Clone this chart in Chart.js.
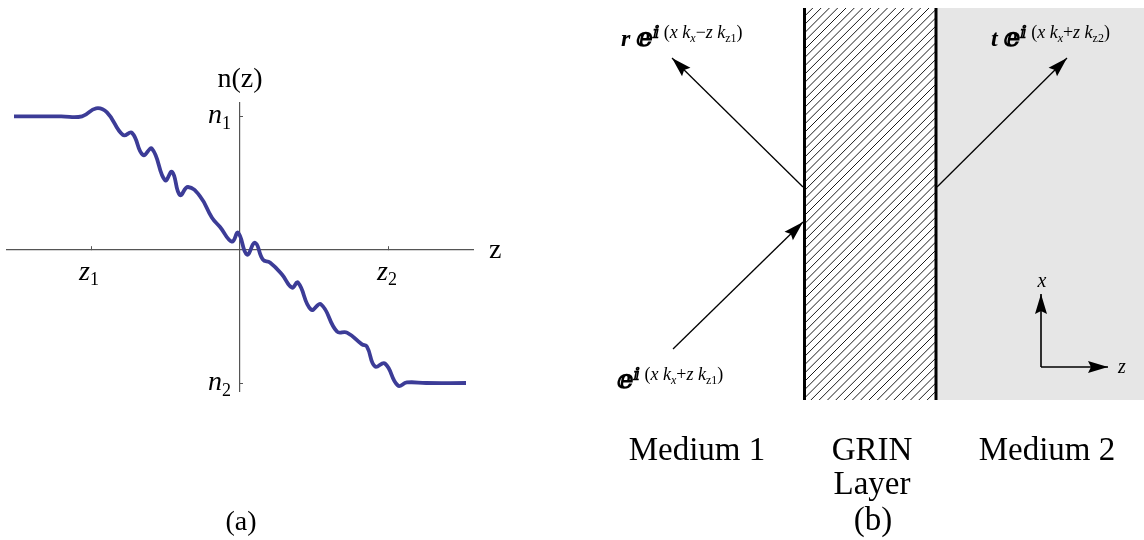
<!DOCTYPE html>
<html><head><meta charset="utf-8">
<script src="https://cdn.jsdelivr.net/npm/chart.js@4.4.1/dist/chart.umd.min.js"></script>
<style>
html,body{margin:0;padding:0;background:#fff;width:1144px;height:540px;overflow:hidden}
#wa{position:absolute;left:0;top:0;width:560px;height:540px}
#wb{position:absolute;left:560px;top:0;width:584px;height:540px}
</style></head><body>
<div id="wa"><canvas id="ca"></canvas></div>
<div id="wb"><canvas id="cb"></canvas></div>
<script>
// ---- panel (a): refractive index profile n(z) ----
const zValues = [-1.517, -1.2, -1.06, -0.966, -0.893, -0.785, -0.725, -0.651, -0.591, -0.503, -0.456, -0.403, -0.349, -0.268, -0.188, -0.134, -0.054, -0.013, 0.047, 0.101, 0.154, 0.201, 0.282, 0.349, 0.389, 0.477, 0.544, 0.651, 0.718, 0.819, 0.852, 0.906, 0.973, 1.06, 1.12, 1.25, 1.517];
const nValues = [1.0, 1.0, 1.0, 1.06, 1.03, 0.86, 0.876, 0.71, 0.757, 0.52, 0.584, 0.41, 0.47, 0.40, 0.24, 0.17, 0.06, 0.127, -0.037, 0.052, -0.075, -0.097, -0.187, -0.285, -0.247, -0.45, -0.41, -0.614, -0.622, -0.71, -0.727, -0.876, -0.854, -1.019, -0.996, -1.0, -1.0];
const zTickValues = [-1, 1];
const zTickNames = ['z', 'z'];
const zTickSubs = ['1', '2'];
const nTickValues = [1, -1];
const nTickNames = ['n', 'n'];
const nTickSubs = ['1', '2'];
const yAxisTitle = 'n(z)';
const xAxisTitle = 'z';
const panelA = '(a)';

// ---- panel (b): GRIN layer schematic (diagram units) ----
const layerEdges = [804.5, 936];
const layerTopBottom = [8, 400];
const medium2Right = 1144;
const arrowNames = ['incident', 'reflected', 'transmitted', 'xAxis', 'zAxis'];
const arrowStartX = [673, 803, 937, 1041, 1041];
const arrowStartY = [349, 187, 187, 367, 367];
const arrowEndX   = [803, 672, 1067, 1041, 1108];
const arrowEndY   = [222, 58, 58, 294, 367];
const regionNames = ['Medium 1', 'GRIN', 'Layer', 'Medium 2'];
const regionLabelX = [697, 872, 872, 1047];
const regionLabelY = [460, 460, 494, 460];
const panelB = '(b)';

const SERIF = '"Liberation Serif", "Times New Roman", serif';

function drawRich(ctx, x, y, segs, align) {
  let w = 0;
  for (const s of segs) { ctx.font = s[1]; w += ctx.measureText(s[0]).width; }
  let cx = align === 'center' ? x - w / 2 : (align === 'right' ? x - w : x);
  ctx.textAlign = 'left'; ctx.textBaseline = 'alphabetic';
  for (const s of segs) { ctx.font = s[1]; ctx.fillText(s[0], cx, y + (s[2] || 0)); cx += ctx.measureText(s[0]).width; }
}

const labelsA = {
  id: 'labelsA',
  afterDraw(chart) {
    const ctx = chart.ctx, xs = chart.scales.x, ys = chart.scales.y;
    ctx.save(); ctx.fillStyle = '#000';
    const x0 = xs.getPixelForValue(0), y0 = ys.getPixelForValue(0);
    ctx.font = '28px ' + SERIF; ctx.textAlign = 'center';
    ctx.fillText(yAxisTitle, x0, 87);
    ctx.textAlign = 'left';
    ctx.fillText(xAxisTitle, xs.right + 16, y0 + 8);
    zTickValues.forEach((v, i) => {
      const px = xs.getPixelForValue(v);
      drawRich(ctx, px - 2, y0 + 30, [[zTickNames[i], 'italic 28px ' + SERIF, 0], [zTickSubs[i], '18px ' + SERIF, 5]], 'center');
    });
    nTickValues.forEach((v, i) => {
      const py = ys.getPixelForValue(v);
      drawRich(ctx, x0 - 9, py + 7, [[nTickNames[i], 'italic 28px ' + SERIF, 0], [nTickSubs[i], '18px ' + SERIF, 6]], 'right');
    });
    ctx.font = '28px ' + SERIF; ctx.textAlign = 'center';
    ctx.fillText(panelA, 241, 530);
    ctx.restore();
  }
};

new Chart(document.getElementById('ca'), {
  type: 'line',
  data: { datasets: [{
    data: zValues.map((z, i) => ({ x: z, y: nValues[i] })),
    borderColor: '#3c3c97', borderWidth: 3.8, pointRadius: 0,
    tension: 0.45, fill: false
  }]},
  options: {
    responsive: true, maintainAspectRatio: false, animation: false,
    layout: { padding: { left: 7, right: 87, top: 103, bottom: 149 } },
    plugins: { legend: { display: false }, tooltip: { enabled: false } },
    scales: {
      x: { type: 'linear', min: -1.564, max: 1.564, position: { y: 0 },
        afterBuildTicks: s => { s.ticks = zTickValues.map(v => ({ value: v })); },
        grid: { display: true, drawOnChartArea: false, drawTicks: true, tickLength: -4, color: '#555', lineWidth: 1 },
        border: { display: true, color: '#555', width: 1.2 },
        ticks: { display: false } },
      y: { type: 'linear', min: -1.06, max: 1.1, position: { x: 0 },
        afterBuildTicks: s => { s.ticks = nTickValues.map(v => ({ value: v })); },
        grid: { display: true, drawOnChartArea: false, drawTicks: true, tickLength: -4, color: '#555', lineWidth: 1 },
        border: { display: true, color: '#555', width: 1.2 },
        ticks: { display: false } }
    }
  },
  plugins: [labelsA]
});

// ---- panel (b) ----
const regionsB = {
  id: 'regionsB',
  beforeDatasetsDraw(chart) {
    const ctx = chart.ctx, xs = chart.scales.x, ys = chart.scales.y;
    const L = xs.getPixelForValue(layerEdges[0]), R = xs.getPixelForValue(layerEdges[1]);
    const T = ys.getPixelForValue(layerTopBottom[0]), B = ys.getPixelForValue(layerTopBottom[1]);
    const M = xs.getPixelForValue(medium2Right);
    ctx.save();
    ctx.fillStyle = '#e6e6e6';
    ctx.fillRect(R, T, M - R, B - T);
    ctx.beginPath(); ctx.rect(L, T, R - L, B - T); ctx.clip();
    ctx.strokeStyle = '#000'; ctx.lineWidth = 0.9;
    ctx.beginPath();
    for (let k = L - (B - T); k < R + 10; k += 8.3) {
      ctx.moveTo(k, B); ctx.lineTo(k + (B - T), T);
    }
    ctx.stroke();
    ctx.restore();
  },
  afterDatasetsDraw(chart) {
    const ctx = chart.ctx, xs = chart.scales.x, ys = chart.scales.y;
    const X = v => xs.getPixelForValue(v), Y = v => ys.getPixelForValue(v);
    ctx.save(); ctx.fillStyle = '#000';
    chart.data.datasets.forEach((ds, i) => {
      if (!ds.arrow) return;
      const pts = chart.getDatasetMeta(i).data;
      const a = pts[0], b = pts[1];
      const ang = Math.atan2(b.y - a.y, b.x - a.x);
      const len = 20, hw = 6;
      ctx.beginPath();
      ctx.moveTo(b.x, b.y);
      ctx.lineTo(b.x - len * Math.cos(ang) + hw * Math.sin(ang), b.y - len * Math.sin(ang) - hw * Math.cos(ang));
      ctx.lineTo(b.x - len * 0.85 * Math.cos(ang), b.y - len * 0.85 * Math.sin(ang));
      ctx.lineTo(b.x - len * Math.cos(ang) - hw * Math.sin(ang), b.y - len * Math.sin(ang) + hw * Math.cos(ang));
      ctx.closePath(); ctx.fill();
    });
    const Is = 'italic 18px ' + SERIF, Us = '18px ' + SERIF, Ib = 'italic 12px ' + SERIF, Ub = '12px ' + SERIF;
    const E = 'bold 26px "DejaVu Serif"', Ei = 'bold 17px "DejaVu Serif"', RB = 'italic bold 24px ' + SERIF;
    const su = -8, sb = -4;
    drawRich(ctx, X(621), Y(46), [['r ', RB, 0], ['ⅇ', E, 0], ['ⅈ', Ei, su], [' (', Us, su], ['x k', Is, su], ['x', Ib, sb], ['−', Us, su], ['z k', Is, su], ['z1', Ub, sb], [')', Us, su]], 'left');
    drawRich(ctx, X(991), Y(46), [['t ', RB, 0], ['ⅇ', E, 0], ['ⅈ', Ei, su], [' (', Us, su], ['x k', Is, su], ['x', Ib, sb], ['+', Us, su], ['z k', Is, su], ['z2', Ub, sb], [')', Us, su]], 'left');
    drawRich(ctx, X(617), Y(388), [['ⅇ', E, 0], ['ⅈ', Ei, su], [' (', Us, su], ['x k', Is, su], ['x', Ib, sb], ['+', Us, su], ['z k', Is, su], ['z1', Ub, sb], [')', Us, su]], 'left');
    ctx.font = 'italic 20px ' + SERIF; ctx.textAlign = 'center';
    ctx.fillText('x', X(1042), Y(287));
    ctx.fillText('z', X(1122), Y(373));
    ctx.font = '33px ' + SERIF; ctx.textAlign = 'center';
    regionNames.forEach((t, i) => ctx.fillText(t, X(regionLabelX[i]), Y(regionLabelY[i])));
    ctx.fillText(panelB, X(873), Y(530));
    ctx.restore();
  }
};

const dsB = [];
arrowNames.forEach((n, i) => {
  dsB.push({ label: n, arrow: true, showLine: true, pointRadius: 0, borderColor: '#000', borderWidth: i < 3 ? 1.3 : 1.6,
    data: [{ x: arrowStartX[i], y: arrowStartY[i] }, { x: arrowEndX[i], y: arrowEndY[i] }] });
});
layerEdges.forEach((e, i) => {
  dsB.push({ label: 'edge' + i, showLine: true, pointRadius: 0, borderColor: '#000', borderWidth: 3,
    data: [{ x: e, y: layerTopBottom[0] }, { x: e, y: layerTopBottom[1] }] });
});

new Chart(document.getElementById('cb'), {
  type: 'scatter',
  data: { datasets: dsB },
  options: {
    responsive: true, maintainAspectRatio: false, animation: false,
    layout: { padding: 0 },
    plugins: { legend: { display: false }, tooltip: { enabled: false } },
    scales: {
      x: { type: 'linear', min: 560, max: 1144, display: false },
      y: { type: 'linear', min: 0, max: 540, reverse: true, display: false }
    }
  },
  plugins: [regionsB]
});
</script>
</body></html>
